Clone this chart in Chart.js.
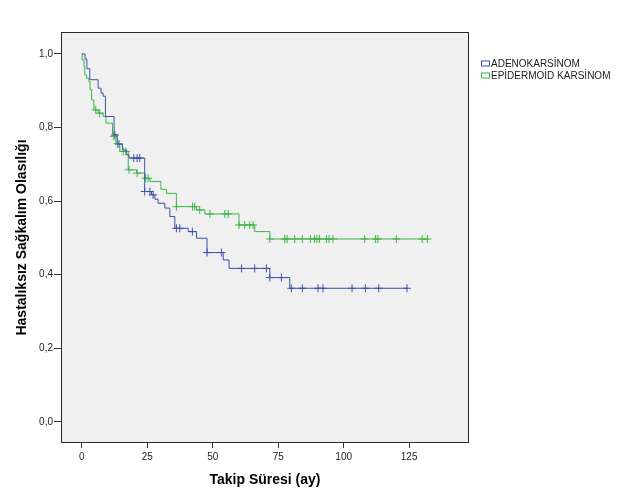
<!DOCTYPE html>
<html><head><meta charset="utf-8">
<script src="https://cdn.jsdelivr.net/npm/chart.js@4"></script>
<style>html,body{margin:0;padding:0;background:#fff;} canvas{display:block;}</style>
</head><body>
<canvas id="c" width="625" height="503"></canvas>
<script>
// ---- data ----
const xTickValues = [0, 25, 50, 75, 100, 125];
const yTickValues = [0, 0.2, 0.4, 0.6, 0.8, 1.0];
const seriesNames = ['ADENOKARSİNOM', 'EPİDERMOİD KARSİNOM'];
const xTitle = 'Takip Süresi (ay)';
const yTitle = 'Hastalıksız Sağkalım Olasılığı';

// Adenokarsinom: event times and survival after each step (last entry = end of follow-up)
const adenoTimes = [0, 1.2, 1.9, 3.0, 6.2, 7.3, 8.1, 9.0, 12.3, 13.5, 15.5, 17.0, 18.0, 24.0, 26.6, 27.9, 29.1, 31.7, 33.6, 35.5, 40.6, 43.8, 47.8, 54.0, 56.2, 71.8, 79.4, 124.6];
const adenoSurv  = [1.0, 0.986, 0.96, 0.93, 0.907, 0.894, 0.885, 0.83, 0.78, 0.755, 0.739, 0.726, 0.717, 0.626, 0.617, 0.605, 0.594, 0.581, 0.558, 0.526, 0.517, 0.499, 0.46, 0.44, 0.417, 0.392, 0.363, 0.363];
const adenoCensored = [12.6, 14.2, 19.8, 21.1, 22.1, 24.0, 26.0, 27.2, 36.1, 37.4, 42.2, 47.8, 53.3, 61.0, 66.0, 70.5, 71.8, 76.2, 80.0, 84.2, 90.2, 92.1, 103.2, 108.3, 113.4, 124.2];

// Epidermoid karsinom
const epiTimes = [0, 0.1, 0.8, 1.1, 1.8, 2.7, 3.1, 3.7, 4.6, 6.2, 8.1, 9.2, 11.7, 13.0, 14.5, 17.7, 20.9, 24.0, 26.0, 30.2, 32.3, 36.1, 43.8, 47.0, 60.0, 66.0, 71.8, 132.5];
const epiSurv  = [1.0, 0.984, 0.966, 0.943, 0.934, 0.925, 0.903, 0.875, 0.848, 0.839, 0.83, 0.812, 0.776, 0.756, 0.735, 0.685, 0.676, 0.662, 0.653, 0.632, 0.621, 0.585, 0.576, 0.565, 0.535, 0.517, 0.497, 0.497];
const epiCensored = [5.3, 6.8, 12.2, 13.6, 15.8, 16.8, 18.0, 21.1, 24.4, 25.3, 36.1, 42.3, 43.1, 45.0, 48.9, 54.6, 55.9, 60.0, 62.2, 64.1, 65.4, 71.8, 77.5, 78.4, 81.3, 84.2, 87.3, 88.9, 89.8, 90.8, 93.4, 94.4, 95.9, 108.0, 112.2, 113.1, 120.1, 130.0, 132.0];

const colors = ['#3b52a5', '#3fb24a'];
const FONT = '"Liberation Sans", Arial, Helvetica, sans-serif';

// ---- helpers ----
function stepPoints(times, surv) { return times.map((t, i) => ({x: t, y: surv[i]})); }
function survAt(times, surv, t) {
  let v = surv[0];
  for (let i = 0; i < times.length; i++) { if (times[i] <= t) v = surv[i]; }
  return v;
}
function censorPoints(cens, times, surv) { return cens.map(t => ({x: t, y: survAt(times, surv, t)})); }

const framePlugin = {
  id: 'frame',
  beforeDraw(chart) {
    const {ctx, chartArea: a} = chart;
    ctx.save();
    ctx.fillStyle = '#f0f0f0';
    ctx.fillRect(a.left, a.top, a.right - a.left, a.bottom - a.top);
    ctx.restore();
  },
  afterDraw(chart) {
    const {ctx, chartArea: a} = chart;
    ctx.save();
    ctx.strokeStyle = '#2a2a2a';
    ctx.lineWidth = 1;
    ctx.strokeRect(Math.round(a.left) - 0.5, Math.round(a.top) - 0.5, Math.round(a.right - a.left) + 1, Math.round(a.bottom - a.top) + 1);
    // legend
    ctx.font = '10px ' + FONT;
    ctx.textBaseline = 'middle';
    ctx.textAlign = 'left';
    seriesNames.forEach((name, i) => {
      const y = 64.5 + i * 12;
      ctx.strokeStyle = colors[i];
      ctx.strokeRect(481.5, y - 3.5, 8, 5);
      ctx.fillStyle = '#1a1a1a';
      ctx.fillText(name, 491, y);
    });
    ctx.restore();
  }
};

const datasets = [
  {label: seriesNames[0], data: stepPoints(adenoTimes, adenoSurv), stepped: 'before', borderColor: colors[0], borderWidth: 1, pointRadius: 0, fill: false},
  {label: seriesNames[1], data: stepPoints(epiTimes, epiSurv), stepped: 'before', borderColor: colors[1], borderWidth: 1, pointRadius: 0, fill: false},
  {label: seriesNames[0] + ' sansürlü', data: censorPoints(adenoCensored, adenoTimes, adenoSurv), showLine: false, pointStyle: 'cross', pointRadius: 4, pointBorderWidth: 1, borderColor: colors[0], pointBorderColor: colors[0]},
  {label: seriesNames[1] + ' sansürlü', data: censorPoints(epiCensored, epiTimes, epiSurv), showLine: false, pointStyle: 'cross', pointRadius: 4, pointBorderWidth: 1, borderColor: colors[1], pointBorderColor: colors[1]}
];

new Chart(document.getElementById('c'), {
  type: 'line',
  data: {datasets},
  plugins: [framePlugin],
  options: {
    responsive: false,
    animation: false,
    devicePixelRatio: 1,
    layout: {padding: {left: 0, right: 157, top: 33, bottom: 0}},
    plugins: {legend: {display: false}, tooltip: {enabled: false}},
    scales: {
      x: {
        type: 'linear', min: -7.6, max: 147.5,
        afterBuildTicks: s => { s.ticks = xTickValues.map(v => ({value: v})); },
        ticks: {callback: v => String(v), font: {size: 10, family: FONT}, color: '#222', padding: 3, maxRotation: 0},
        grid: {drawOnChartArea: false, tickLength: 6, color: '#333'},
        border: {display: false},
        title: {display: true, text: xTitle, font: {size: 14, weight: 'bold', family: FONT}, color: '#000', padding: {top: 0, bottom: 14.6}},
        afterFit: s => { s.height = 61; }
      },
      y: {
        type: 'linear', min: -0.055, max: 1.057,
        afterBuildTicks: s => { s.ticks = yTickValues.map(v => ({value: v})); },
        ticks: {callback: v => Number(v).toFixed(1).replace('.', ','), font: {size: 10, family: FONT}, color: '#222', padding: 1},
        grid: {drawOnChartArea: false, tickLength: 8, color: '#333'},
        border: {display: false},
        title: {display: true, text: yTitle, font: {size: 14, weight: 'bold', family: FONT}, color: '#000', padding: {top: 13.6, bottom: 0}},
        afterFit: s => { s.width = 62; }
      }
    }
  }
});
</script>
</body></html>
